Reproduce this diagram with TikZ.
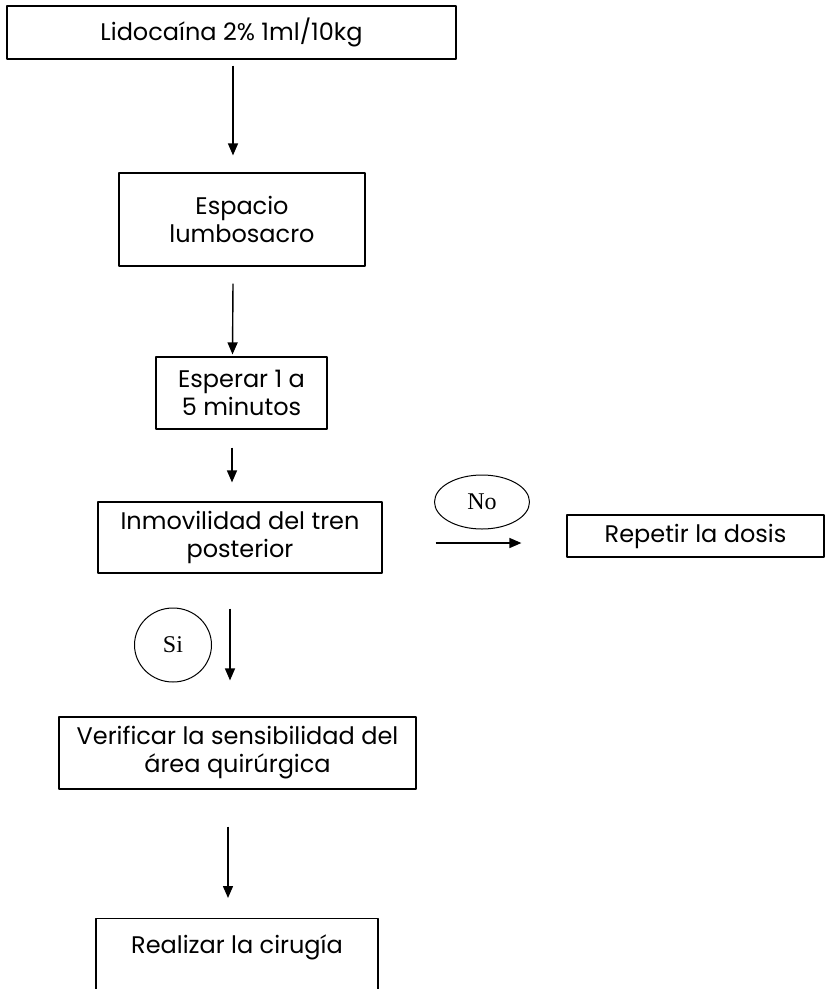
\documentclass[tikz,border=0pt]{standalone}
\usepackage{fontspec}
\setmainfont{Poppins}
\newfontfamily\letrasi{Liberation Serif}
\usetikzlibrary{shapes.geometric,arrows.meta}

\begin{document}
\begin{tikzpicture}[x=1pt,y=1pt,line join=round,>={Triangle[length=12pt,width=10pt]},
    caja/.style={draw,line width=1.2pt,rectangle,align=center,inner sep=0pt,font=\fontsize{24}{28}\selectfont},
    globo/.style={draw,line width=1pt,ellipse,inner sep=0pt,font=\letrasi\fontsize{24}{26}\selectfont},
    flecha/.style={->,line width=1.4pt}]
    %% Marco de la hoja
    \useasboundingbox (0,0) rectangle (825,-989);
    %% Cajas del diagrama
    \node[caja,minimum width=449pt,minimum height=53pt] (lido) at (231.5,-32.5) {Lidocaína 2\% 1ml/10kg};
    \node[caja,minimum width=246pt,minimum height=93pt] (espacio) at (242,-219.5) {Espacio\\lumbosacro};
    \node[caja,minimum width=171pt,minimum height=72pt] (esperar) at (241.5,-393) {Esperar 1 a\\5 minutos};
    \node[caja,minimum width=284pt,minimum height=71pt] (inmov) at (240,-537.5) {Inmovilidad del tren\\posterior};
    \node[caja,minimum width=257pt,minimum height=42pt] (repetir) at (695.5,-536) {Repetir la dosis};
    \node[caja,minimum width=357pt,minimum height=72pt] (verif) at (237.5,-753) {Verificar la sensibilidad del\\área quirúrgica};
    \node[caja,minimum width=282pt,minimum height=80pt,anchor=north] (cirugia) at (237,-918) {Realizar la cirugía\\\mbox{}};
    %% Respuestas
    \node[globo,minimum width=95pt,minimum height=54pt] (no) at (482,-502) {No};
    \node[globo,minimum width=77pt,minimum height=74pt] (si) at (173,-645) {Si};
    %% Flechas
    \draw[flecha] ([xshift=1.5pt,yshift=-6pt]lido.south) -- ([xshift=-9pt,yshift=17pt]espacio.north);
    \draw[flecha] ([xshift=-9pt,yshift=-17pt]espacio.south) -- ([xshift=-9pt,yshift=2pt]esperar.north);
    \draw[flecha] ([xshift=-9.5pt,yshift=-18pt]esperar.south) -- ([xshift=-8pt,yshift=19pt]inmov.north);
    \draw[flecha] ([xshift=53pt,yshift=-5.5pt]inmov.east) -- ([xshift=-45pt,yshift=-7pt]repetir.west);
    \draw[flecha] ([xshift=-10pt,yshift=-35pt]inmov.south) -- ([xshift=-7.5pt,yshift=36pt]verif.north);
    \draw[flecha] ([xshift=-9.5pt,yshift=-37pt]verif.south) -- ([xshift=-9pt,yshift=20pt]cirugia.north);
\end{tikzpicture}
\end{document}
